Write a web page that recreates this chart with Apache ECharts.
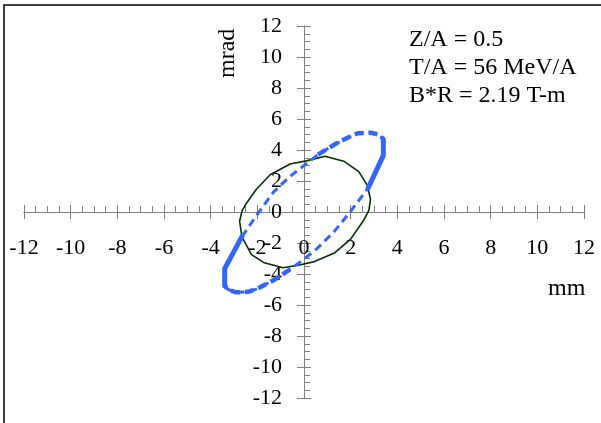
<!DOCTYPE html>
<html>
<head>
<meta charset="utf-8">
<script src="https://cdn.jsdelivr.net/npm/echarts@6/dist/echarts.min.js"></script>
<style>
  html, body { margin: 0; padding: 0; background: #fff; }
  #chart { width: 601px; height: 423px; }
</style>
</head>
<body>
<div id="chart"></div>
<script>
// Phase-space ellipses: position (mm) vs angle (mrad)
const axisMin = -12;
const axisMax = 12;
const majorStep = 2;
const tickValues = [-12, -10, -8, -6, -4, -2, 0, 2, 4, 6, 8, 10, 12];

// Acceptance ellipse (solid green), closed polygon
const greenMm   = [0.9, 1.7, 2.35, 2.72, 2.85, 2.78, 2.55, 2.0, 1.3, 0.45, -0.2, -0.9, -1.7, -2.25, -2.66, -2.76, -2.65, -2.45, -2.05, -1.45, -0.6, 0.1, 0.9];
const greenMrad = [3.6, 3.28, 2.6, 1.7, 0.8, 0.1, -0.55, -1.75, -2.65, -3.2, -3.42, -3.6, -3.28, -2.75, -1.6, -0.6, 0.1, 0.6, 1.45, 2.4, 3.1, 3.3, 3.6];

// Beam ellipse (dashed blue), closed polygon
const blueMm   = [-2.66, -2.0, -1.3, -0.6, 0.0, 0.6, 1.3, 1.95, 2.3, 2.85, 3.25, 3.4, 3.4, 2.75, 2.0, 1.3, 0.6, 0.0, -0.6, -1.25, -2.0, -2.4, -2.9, -3.25, -3.4, -3.4, -2.66];
const blueMrad = [-1.59, -0.15, 1.3, 2.3, 3.0, 3.7, 4.35, 4.85, 5.08, 5.12, 4.98, 4.68, 3.65, 1.55, 0.05, -1.25, -2.3, -3.05, -3.7, -4.35, -4.95, -5.15, -5.18, -5.0, -4.75, -3.65, -1.59];

// Index ranges of the blue outline drawn heavier
const blueHeavyDashed = [[5, 11], [18, 24]];
const blueHeavySolid  = [[11, 13], [24, 26]];

const notes = ['Z/A = 0.5', 'T/A = 56 MeV/A', 'B*R = 2.19 T-m'];
const xName = 'mm';
const yName = 'mrad';

const pairs = (xs, ys, from, to) => {
  const out = [];
  for (let i = from; i <= to; i++) out.push([xs[i], ys[i]]);
  return out;
};

const FONT = '"Liberation Serif", "Times New Roman", serif';
const AXIS_COLOR = '#808080';
const BLUE = '#3366ff';
const GREEN = '#003300';

// Plot area in pixels; axes are shifted inward so they cross at the origin
const GRID = { left: 24, right: 17, top: 26, bottom: 25 };
const W = 601, H = 423;
const halfW = (W - GRID.left - GRID.right) / 2;
const halfH = (H - GRID.top - GRID.bottom) / 2;

const labelFmt = v => (tickValues.indexOf(v) >= 0 ? String(v) : '');

const baseAxis = {
  type: 'value',
  min: axisMin,
  max: axisMax,
  interval: majorStep,
  splitLine: { show: false },
  axisLine: { show: true, onZero: false, lineStyle: { color: AXIS_COLOR, width: 1 } }
};

const series = [];
series.push({
  type: 'line', xAxisIndex: 0, yAxisIndex: 0,
  data: pairs(greenMm, greenMrad, 0, greenMm.length - 1),
  showSymbol: false, smooth: false, silent: true,
  lineStyle: { color: GREEN, width: 1.6 }
});
series.push({
  type: 'line', xAxisIndex: 0, yAxisIndex: 0,
  data: pairs(blueMm, blueMrad, 0, blueMm.length - 1),
  showSymbol: false, smooth: false, silent: true,
  lineStyle: { color: BLUE, width: 3, type: [8, 5] }
});
blueHeavyDashed.forEach(([a, b]) => series.push({
  type: 'line', xAxisIndex: 0, yAxisIndex: 0,
  data: pairs(blueMm, blueMrad, a, b),
  showSymbol: false, smooth: false, silent: true,
  lineStyle: { color: BLUE, width: 4.5, type: [9, 5] }
}));
blueHeavySolid.forEach(([a, b]) => series.push({
  type: 'line', xAxisIndex: 0, yAxisIndex: 0,
  data: pairs(blueMm, blueMrad, a, b),
  showSymbol: false, smooth: false, silent: true,
  lineStyle: { color: BLUE, width: 5, cap: 'round', join: 'round' }
}));

const chart = echarts.init(document.getElementById('chart'), null, { renderer: 'canvas' });
chart.setOption({
  animation: false,
  backgroundColor: '#ffffff',
  grid: Object.assign({ containLabel: false, outerBoundsMode: 'none' }, GRID),
  xAxis: [
    Object.assign({}, baseAxis, {
      position: 'bottom', offset: -halfH,
      axisTick: { show: true, inside: false, length: 7, lineStyle: { color: AXIS_COLOR } },
      axisLabel: { show: true, margin: 25, color: '#000', fontFamily: FONT, fontSize: 22,
                   showMinLabel: true, showMaxLabel: true, formatter: labelFmt }
    }),
    Object.assign({}, baseAxis, {
      position: 'top', offset: -halfH,
      axisTick: { show: true, inside: false, length: 7, lineStyle: { color: AXIS_COLOR } },
      minorTick: { show: true, splitNumber: 4, length: 6, lineStyle: { color: AXIS_COLOR, width: 1 } },
      axisLabel: { show: false }
    })
  ],
  yAxis: [
    Object.assign({}, baseAxis, {
      position: 'left', offset: -halfW,
      axisTick: { show: true, inside: false, length: 7, lineStyle: { color: AXIS_COLOR } },
      axisLabel: { show: true, margin: 22, color: '#000', fontFamily: FONT, fontSize: 22,
                   showMinLabel: true, showMaxLabel: true, formatter: labelFmt }
    }),
    Object.assign({}, baseAxis, {
      position: 'right', offset: -halfW,
      axisTick: { show: true, inside: false, length: 7, lineStyle: { color: AXIS_COLOR } },
      minorTick: { show: true, splitNumber: 4, length: 6, lineStyle: { color: AXIS_COLOR, width: 1 } },
      axisLabel: { show: false }
    })
  ],
  series: series,
  graphic: [
    { type: 'rect', silent: true, z: 100,
      shape: { x: 4, y: 5, width: 640, height: 460 },
      style: { fill: 'none', stroke: '#000', lineWidth: 1.5 } },
    { type: 'text', silent: true, left: 409, top: 26,
      style: { text: notes.join('\n'), font: '24px ' + FONT, fill: '#000', lineHeight: 28 } },
    { type: 'text', silent: true, left: 548, top: 277,
      style: { text: xName, font: '24px ' + FONT, fill: '#000' } },
    { type: 'text', silent: true, x: 216, y: 78, rotation: Math.PI / 2,
      style: { text: yName, font: '24px ' + FONT, fill: '#000', textVerticalAlign: 'top' } }
  ]
});
</script>
</body>
</html>
